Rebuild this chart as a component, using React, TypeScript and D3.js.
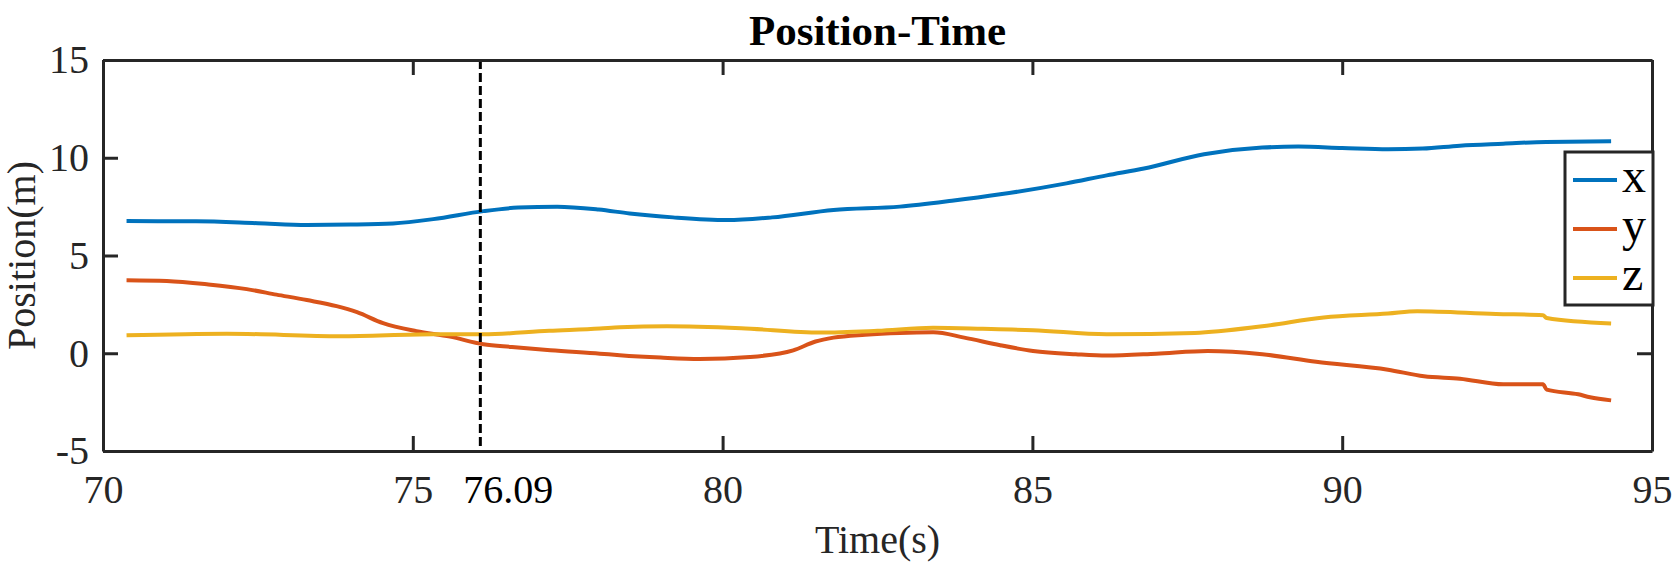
import { useEffect, useRef } from 'react';
import * as d3 from 'd3';

// time (s) and positions (m)
const tX = [70.38, 71.5, 72.5, 73.29, 74.0, 74.68, 75.33, 76.14, 76.7, 77.33, 78.0, 78.5, 79.2, 80.07, 80.8, 81.79, 82.86, 83.7, 84.48, 85.55, 86.2, 86.8, 87.77, 88.71, 89.29, 90.0, 90.74, 91.3, 91.9, 92.6, 93.29, 94.34];
const xPos = [6.76, 6.75, 6.65, 6.56, 6.58, 6.64, 6.86, 7.27, 7.45, 7.5, 7.35, 7.15, 6.95, 6.81, 6.95, 7.33, 7.5, 7.8, 8.13, 8.69, 9.1, 9.45, 10.18, 10.52, 10.57, 10.5, 10.43, 10.47, 10.62, 10.72, 10.81, 10.84];

const tY = [70.38, 71.03, 71.7, 72.32, 72.8, 73.29, 73.77, 74.1, 74.52, 75.06, 75.6, 76.14, 76.6, 77.22, 78.02, 78.34, 79.0, 79.63, 80.44, 81.14, 81.5, 81.79, 82.3, 82.86, 83.4, 83.9, 84.48, 85.01, 85.7, 86.2, 87.0, 87.83, 88.71, 89.58, 90.74, 91.32, 91.9, 92.6, 93.24, 93.3, 93.81, 94.0, 94.34];
const yPos = [3.74, 3.7, 3.52, 3.28, 3.0, 2.72, 2.41, 2.1, 1.54, 1.13, 0.85, 0.46, 0.32, 0.15, -0.02, -0.1, -0.22, -0.29, -0.19, 0.15, 0.6, 0.8, 0.95, 1.04, 1.07, 0.8, 0.41, 0.12, -0.05, -0.12, -0.02, 0.12, -0.05, -0.44, -0.84, -1.18, -1.3, -1.59, -1.59, -1.86, -2.1, -2.25, -2.41];

const tZ = [70.38, 72.0, 73.83, 75.33, 76.14, 77.2, 78.02, 78.34, 79.1, 80.3, 81.58, 82.5, 83.4, 84.2, 85.01, 86.2, 87.62, 88.71, 89.7, 90.74, 91.21, 92.48, 93.24, 93.3, 94.34];
const zPos = [0.92, 1.0, 0.87, 0.97, 0.97, 1.15, 1.26, 1.33, 1.38, 1.28, 1.06, 1.15, 1.3, 1.25, 1.18, 0.97, 1.04, 1.38, 1.83, 2.03, 2.15, 2.01, 1.95, 1.8, 1.52];

const seriesNames = ['x', 'y', 'z'];
const seriesColors = ['#0072BD', '#D95319', '#EDB120'];
const xTicks = [70, 75, 80, 85, 90, 95];
const yTicks = [-5, 0, 5, 10, 15];
const markerTime = 76.09;
const markerLabel = '76.09';

const W = 1675;
const H = 563;
const FONT = '"Liberation Serif", "Times New Roman", serif';
const AXIS_COLOR = '#262626';

export default function App() {
  const svgRef = useRef<SVGSVGElement>(null);

  useEffect(() => {
    if (!svgRef.current) return;
    const svg = d3.select(svgRef.current);
    svg.selectAll('*').remove();

    const margin = { top: 60, right: W - 1652, bottom: H - 451, left: 103 };
    const innerW = W - margin.left - margin.right;
    const innerH = H - margin.top - margin.bottom;

    const x = d3.scaleLinear().domain([70, 95]).range([0, innerW]);
    const y = d3.scaleLinear().domain([-5, 15]).range([innerH, 0]);

    const g = svg.append('g').attr('transform', `translate(${margin.left},${margin.top})`);

    const series = [
      tX.map((t, i) => [t, xPos[i]] as [number, number]),
      tY.map((t, i) => [t, yPos[i]] as [number, number]),
      tZ.map((t, i) => [t, zPos[i]] as [number, number]),
    ];

    const line = d3.line<[number, number]>()
      .x(d => x(d[0]))
      .y(d => y(d[1]))
      .curve(d3.curveMonotoneX);

    series.forEach((s, i) => {
      g.append('path')
        .datum(s)
        .attr('fill', 'none')
        .attr('stroke', seriesColors[i])
        .attr('stroke-width', 4)
        .attr('stroke-linejoin', 'round')
        .attr('d', line);
    });

    // marker line
    g.append('line')
      .attr('x1', x(markerTime)).attr('x2', x(markerTime))
      .attr('y1', 0).attr('y2', innerH)
      .attr('stroke', '#000')
      .attr('stroke-width', 3)
      .attr('stroke-dasharray', '9,4');

    const fmt = (d: d3.NumberValue) => String(d);
    const styleAxis = (sel: d3.Selection<SVGGElement, unknown, null, undefined>) => {
      sel.select('.domain').attr('stroke', AXIS_COLOR).attr('stroke-width', 3);
      sel.selectAll('.tick line').attr('stroke', AXIS_COLOR).attr('stroke-width', 3);
      sel.selectAll('.tick text')
        .attr('fill', AXIS_COLOR)
        .style('font-family', FONT)
        .style('font-size', '40px');
    };

    const bottom = g.append('g')
      .attr('transform', `translate(0,${innerH})`)
      .call(d3.axisBottom(x).tickValues(xTicks).tickSizeInner(-15).tickSizeOuter(0).tickPadding(24).tickFormat(fmt));
    styleAxis(bottom);

    // marker value, written just right of the dashed line under the axis
    g.append('text')
      .attr('x', x(markerTime) - 17)
      .attr('y', innerH + 52)
      .attr('text-anchor', 'start')
      .attr('fill', '#000')
      .style('font-family', FONT).style('font-size', '40px')
      .text(markerLabel);

    const top = g.append('g')
      .call(d3.axisTop(x).tickValues(xTicks).tickSizeInner(-15).tickSizeOuter(0).tickFormat(() => ''));
    styleAxis(top);

    const left = g.append('g')
      .call(d3.axisLeft(y).tickValues(yTicks).tickSizeInner(-15).tickSizeOuter(0).tickPadding(14).tickFormat(fmt));
    styleAxis(left);

    const right = g.append('g')
      .attr('transform', `translate(${innerW},0)`)
      .call(d3.axisRight(y).tickValues(yTicks).tickSizeInner(-15).tickSizeOuter(0).tickFormat(() => ''));
    styleAxis(right);

    // labels
    svg.append('text')
      .attr('x', margin.left + innerW / 2).attr('y', 45)
      .attr('text-anchor', 'middle')
      .style('font-family', FONT).style('font-size', '43px').style('font-weight', 'bold')
      .text('Position-Time');

    svg.append('text')
      .attr('x', margin.left + innerW / 2).attr('y', 553)
      .attr('text-anchor', 'middle')
      .attr('fill', AXIS_COLOR)
      .style('font-family', FONT).style('font-size', '40px')
      .text('Time(s)');

    svg.append('text')
      .attr('transform', `translate(35,${margin.top + innerH / 2}) rotate(-90)`)
      .attr('text-anchor', 'middle')
      .attr('fill', AXIS_COLOR)
      .style('font-family', FONT).style('font-size', '40px')
      .text('Position(m)');

    // legend
    const lg = svg.append('g').attr('transform', 'translate(1565,152)');
    lg.append('rect')
      .attr('width', 88).attr('height', 153)
      .attr('fill', '#fff')
      .attr('stroke', AXIS_COLOR).attr('stroke-width', 3);
    seriesNames.forEach((name, i) => {
      const cy = 28 + i * 49;
      lg.append('line')
        .attr('x1', 8).attr('x2', 52).attr('y1', cy).attr('y2', cy)
        .attr('stroke', seriesColors[i]).attr('stroke-width', 4);
      lg.append('text')
        .attr('x', 57).attr('y', cy + 12)
        .attr('fill', '#000')
        .style('font-family', FONT).style('font-size', '48px')
        .text(name);
    });
  }, []);

  return (
    <svg
      ref={svgRef}
      width={W}
      height={H}
      style={{ position: 'absolute', left: 0, top: 0, background: '#fff' }}
    />
  );
}
